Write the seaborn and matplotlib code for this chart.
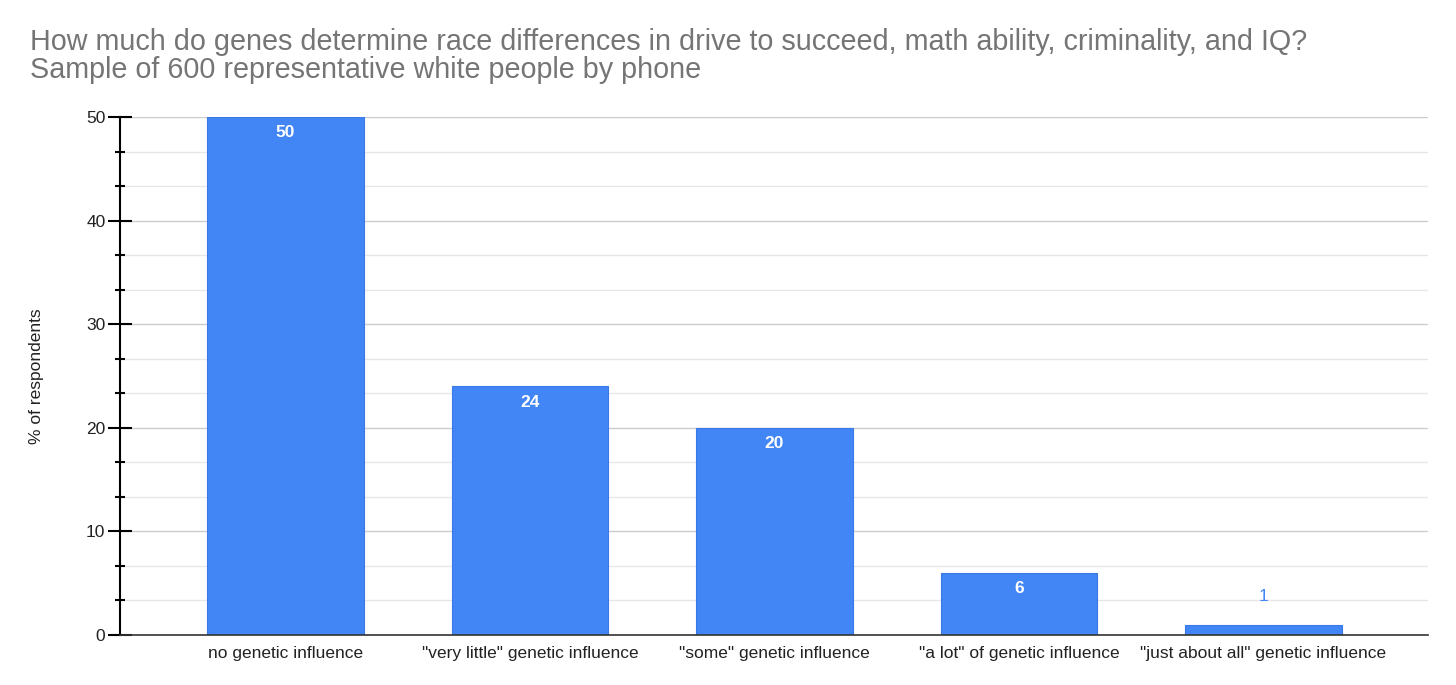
import matplotlib
matplotlib.use("Agg")
import matplotlib.pyplot as plt
import seaborn as sns
import pandas as pd
import numpy as np
from matplotlib.ticker import MultipleLocator

categories = ['no genetic influence', '"very little" genetic influence', '"some" genetic influence',
              '"a lot" of genetic influence', '"just about all" genetic influence']
values = [50, 24, 20, 6, 1]
yticks = [0, 10, 20, 30, 40, 50]
title_lines = ["How much do genes determine race differences in drive to succeed, math ability, criminality, and IQ?",
               "Sample of 600 representative white people by phone"]

sns.set_theme(style="white")
plt.rcParams['font.family'] = ['Arial', 'Liberation Sans', 'DejaVu Sans']

df = pd.DataFrame({"cat": categories, "val": values})
fig = plt.figure(figsize=(14.56, 6.85), dpi=100)
ax = fig.add_axes([120/1456, 50/685, (1428-120)/1456, (635-117)/685])
bar_color = "#4285F4"
sns.barplot(data=df, x="cat", y="val", color=bar_color, width=0.64, ax=ax,
            saturation=1, edgecolor="#3b78e7", linewidth=0.8)

ax.set_ylim(0, 50)
ax.set_xlim(-0.677, 4.673)
ax.set_yticks(yticks)
ax.yaxis.set_minor_locator(MultipleLocator(10/3))
ax.grid(axis="y", which="major", color="#cccccc", linewidth=1)
ax.grid(axis="y", which="minor", color="#e6e6e6", linewidth=1)
ax.set_axisbelow(True)
for s in ["top", "right"]:
    ax.spines[s].set_visible(False)
ax.spines["left"].set_color("#000000")
ax.spines["bottom"].set_color("#333333")
ax.spines["left"].set_linewidth(1.5)
ax.spines["bottom"].set_linewidth(1.2)
ax.tick_params(axis="y", which="major", direction="inout", length=17, width=1.5, color="black",
               labelsize=12.5, labelcolor="#222222", left=True, pad=2)
ax.tick_params(axis="y", which="minor", direction="inout", length=7, width=1.5, color="black", left=True)
ax.tick_params(axis="x", length=0, labelsize=12.5, labelcolor="#222222", pad=8)
ax.set_xlabel("")
ax.set_ylabel("% of respondents", fontsize=12.5, color="#222222", labelpad=30)

for i, v in enumerate(values):
    if v >= 3:
        ax.text(i, v - 0.8, str(v), ha="center", va="top", color="white", fontsize=12.5, fontweight="bold")
    else:
        ax.text(i, v + 2.0, str(v), ha="center", va="bottom", color=bar_color, fontsize=12.5)

fig.text(30/1456, 1 - 42/685, title_lines[0], ha="left", va="center", fontsize=20.7, color="#757575")
fig.text(30/1456, 1 - 70/685, title_lines[1], ha="left", va="center", fontsize=20.7, color="#757575")

fig.savefig("out.png", dpi=100, facecolor="white")
